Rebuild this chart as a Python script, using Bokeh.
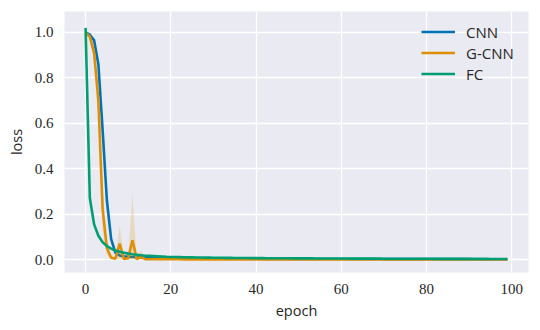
from bokeh.plotting import figure
from bokeh.models import Range1d
from bokeh.embed import file_html
from bokeh.resources import INLINE

epochs = list(range(100))

cnn = [1.0, 0.99, 0.965, 0.86, 0.57, 0.26, 0.09, 0.03, 0.018, 0.014,
       0.012, 0.011, 0.010, 0.009, 0.0085, 0.008, 0.0075, 0.007, 0.0066, 0.0062,
       0.0059, 0.0056, 0.0054, 0.0052, 0.0050, 0.0048, 0.0047, 0.0045, 0.0044, 0.0043,
       0.0042, 0.0041, 0.0040, 0.0039, 0.0038, 0.0037, 0.0036, 0.0036, 0.0035, 0.0034,
       0.0034, 0.0033, 0.0032, 0.0032, 0.0031, 0.0031, 0.0030, 0.0030, 0.0029, 0.0029,
       0.0028, 0.0028, 0.0027, 0.0027, 0.0027, 0.0026, 0.0026, 0.0025, 0.0025, 0.0025,
       0.0024, 0.0024, 0.0024, 0.0023, 0.0023, 0.0023, 0.0022, 0.0022, 0.0022, 0.0022,
       0.0021, 0.0021, 0.0021, 0.0020, 0.0020, 0.0020, 0.0020, 0.0019, 0.0019, 0.0019,
       0.0019, 0.0018, 0.0018, 0.0018, 0.0018, 0.0018, 0.0017, 0.0017, 0.0017, 0.0017,
       0.0017, 0.0016, 0.0016, 0.0016, 0.0016, 0.0016, 0.0016, 0.0015, 0.0015, 0.0015]

gcnn = [1.0, 0.98, 0.91, 0.70, 0.22, 0.05, 0.008, 0.004, 0.07, 0.002,
        0.006, 0.085, 0.002, 0.012, 0.002, 0.0015, 0.0014, 0.0013, 0.0012, 0.0012,
        0.0011, 0.0011, 0.0011, 0.0010, 0.0010, 0.0010, 0.0010, 0.0009, 0.0009, 0.0009,
        0.0009, 0.0009, 0.0008, 0.0008, 0.0008, 0.0008, 0.0008, 0.0008, 0.0007, 0.0007,
        0.0007, 0.0007, 0.0007, 0.0007, 0.0007, 0.0007, 0.0006, 0.0006, 0.0006, 0.0006,
        0.0006, 0.0006, 0.0006, 0.0006, 0.0006, 0.0006, 0.0005, 0.0005, 0.0005, 0.0005,
        0.0005, 0.0005, 0.0005, 0.0005, 0.0005, 0.0005, 0.0005, 0.0005, 0.0005, 0.0005,
        0.0004, 0.0004, 0.0004, 0.0004, 0.0004, 0.0004, 0.0004, 0.0004, 0.0004, 0.0004,
        0.0004, 0.0004, 0.0004, 0.0004, 0.0004, 0.0004, 0.0004, 0.0004, 0.0004, 0.0004,
        0.0003, 0.0003, 0.0003, 0.0003, 0.0003, 0.0003, 0.0003, 0.0003, 0.0003, 0.0003]

band_epochs = list(range(17))
gcnn_lo = [1.0, 0.97, 0.87, 0.62, 0.13, 0.02, 0.0, 0.0, 0.0, 0.0,
           0.0, 0.0, 0.0, 0.0, 0.0, 0.0, 0.0]
gcnn_hi = [1.0, 0.99, 0.95, 0.78, 0.32, 0.09, 0.02, 0.01, 0.15, 0.005,
           0.015, 0.29, 0.006, 0.04, 0.005, 0.003, 0.002]

fc = [1.02, 0.27, 0.155, 0.105, 0.076, 0.059, 0.048, 0.040, 0.034, 0.030,
      0.026, 0.023, 0.021, 0.019, 0.017, 0.016, 0.015, 0.014, 0.013, 0.012,
      0.0115, 0.011, 0.0105, 0.010, 0.0097, 0.0094, 0.0091, 0.0088, 0.0085, 0.0083,
      0.0081, 0.0079, 0.0077, 0.0075, 0.0073, 0.0071, 0.0070, 0.0068, 0.0067, 0.0065,
      0.0064, 0.0063, 0.0061, 0.0060, 0.0059, 0.0058, 0.0057, 0.0056, 0.0055, 0.0054,
      0.0053, 0.0052, 0.0051, 0.0050, 0.0049, 0.0048, 0.0048, 0.0047, 0.0046, 0.0045,
      0.0045, 0.0044, 0.0043, 0.0043, 0.0042, 0.0041, 0.0041, 0.0040, 0.0040, 0.0039,
      0.0038, 0.0038, 0.0037, 0.0037, 0.0036, 0.0036, 0.0035, 0.0035, 0.0034, 0.0034,
      0.0033, 0.0033, 0.0032, 0.0032, 0.0032, 0.0031, 0.0031, 0.0030, 0.0030, 0.0030,
      0.0029, 0.0029, 0.0028, 0.0028, 0.0028, 0.0027, 0.0027, 0.0027, 0.0026, 0.0026]

xticks = [0, 20, 40, 60, 80, 100]
yticks = [0.0, 0.2, 0.4, 0.6, 0.8, 1.0]
ytick_labels = ["0.0", "0.2", "0.4", "0.6", "0.8", "1.0"]

C_CNN = "#0173b2"
C_GCNN = "#de8f05"
C_FC = "#029e73"
TXT = "#262626"

p = figure(frame_width=464, frame_height=261, output_backend="svg", toolbar_location=None,
           x_range=Range1d(-4.95, 103.95), y_range=Range1d(-0.057, 1.092),
           min_border_left=64, min_border_right=12, min_border_top=11,
           min_border_bottom=58)
p.background_fill_color = "#eaeaf2"
p.border_fill_color = "white"
p.outline_line_color = None

p.grid.grid_line_color = "white"
p.grid.grid_line_width = 1.3

for ax in (p.xaxis, p.yaxis):
    ax.axis_line_color = None
    ax.major_tick_line_color = None
    ax.minor_tick_line_color = None
    ax.major_tick_in = 0
    ax.major_tick_out = 0
    ax.minor_tick_in = 0
    ax.minor_tick_out = 0
    ax.major_label_text_font = "Liberation Serif"
    ax.major_label_text_font_size = "15px"
    ax.major_label_text_color = TXT
    ax.axis_label_text_font = "Open Sans"
    ax.axis_label_text_font_size = "14.5px"
    ax.axis_label_text_font_style = "normal"
    ax.axis_label_text_color = TXT

p.xaxis.ticker = xticks
p.yaxis.ticker = yticks
p.yaxis.major_label_overrides = {t: l for t, l in zip(yticks, ytick_labels)}
p.xaxis.major_label_standoff = 11
p.yaxis.major_label_standoff = 11
p.xaxis.axis_label = "epoch"
p.yaxis.axis_label = "loss"
p.xaxis.axis_label_standoff = 4
p.yaxis.axis_label_standoff = 6

p.line(epochs, cnn, line_color=C_CNN, line_width=2.6, legend_label="CNN")
p.varea(x=band_epochs, y1=gcnn_lo, y2=gcnn_hi, fill_color=C_GCNN, fill_alpha=0.2)
p.line(epochs, gcnn, line_color=C_GCNN, line_width=2.6, legend_label="G-CNN")
p.line(epochs, fc, line_color=C_FC, line_width=2.6, legend_label="FC")

lg = p.legend[0]
lg.location = (357, 188)
lg.background_fill_alpha = 0
lg.border_line_color = None
lg.label_text_font = "Open Sans"
lg.label_text_font_size = "15px"
lg.label_text_color = TXT
lg.glyph_width = 34
lg.glyph_height = 21
lg.label_height = 21
lg.label_standoff = 11
lg.spacing = 0
lg.margin = 0
lg.padding = 0

open("out.html", "w").write(file_html(p, INLINE))
